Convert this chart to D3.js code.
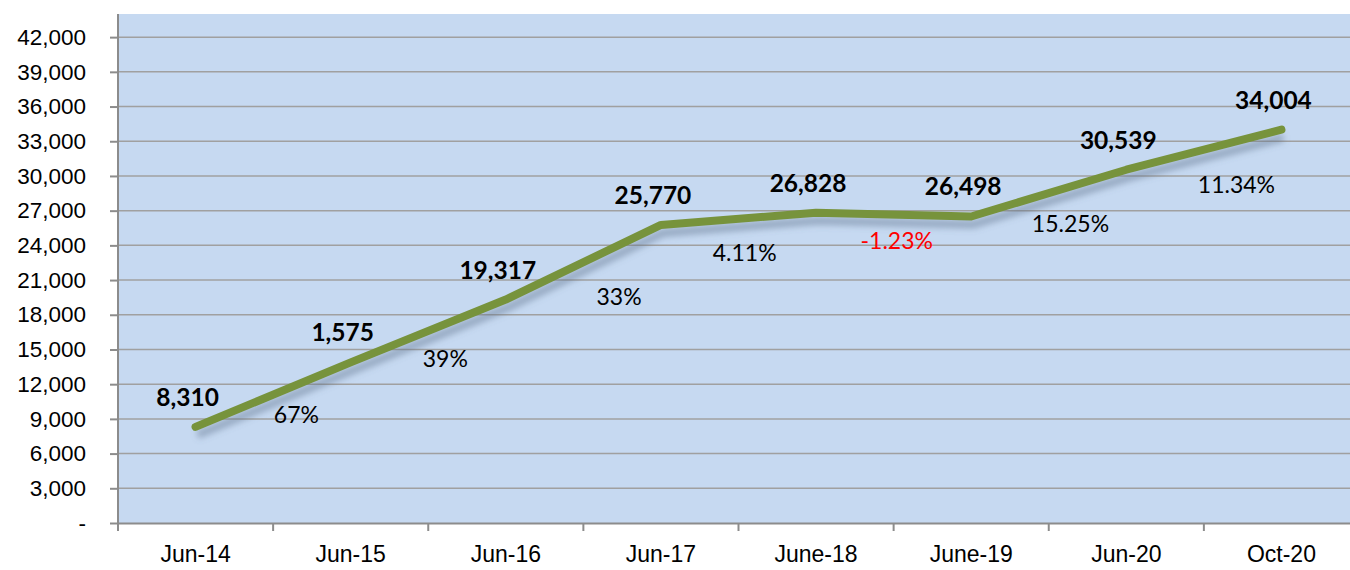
<!DOCTYPE html>
<html>
<head>
<meta charset="utf-8">
<script src="https://cdn.jsdelivr.net/npm/d3@7"></script>
<style>
  body { margin: 0; background: #fff; }
  svg { display: block; font-family: Lato, "Open Sans", sans-serif; }
</style>
</head>
<body>
<div id="chart"></div>
<script>
var w = 1350;
var h = 570;

// chart data
var periods = ["Jun-14", "Jun-15", "Jun-16", "Jun-17", "June-18", "June-19", "Jun-20", "Oct-20"];
var totals = [8310, 13885, 19317, 25770, 26828, 26498, 30539, 34004];
var totalLabels = ["8,310", "1,575", "19,317", "25,770", "26,828", "26,498", "30,539", "34,004"];
var growth = ["67%", "39%", "33%", "4.11%", "-1.23%", "15.25%", "11.34%"];
// where each growth label sits: fractional category index and value
var growthAt = [0.65, 1.61, 2.73, 3.54, 4.52, 5.64, 6.71];
var growthVal = [9340, 14180, 19540, 23340, 24380, 25850, 29220];
var yTicks = d3.range(0, 42001, 3000);

var margin = {left: 118, top: 14, bottom: 47};
var plotRight = 1359;

var svg = d3.select("#chart").append("svg")
    .attr("width", w)
    .attr("height", h);

var defs = svg.append("defs");
var shadow = defs.append("filter").attr("id", "shadow")
    .attr("x", "-10%").attr("y", "-50%").attr("width", "120%").attr("height", "200%");
shadow.append("feGaussianBlur").attr("stdDeviation", 3);

var x = d3.scaleBand().domain(periods).range([margin.left, plotRight]);
var y = d3.scaleLinear().domain([0, 44000]).range([h - margin.bottom, margin.top]);

function cx(i) { return x(periods[0]) + x.bandwidth() * (i + 0.5); }

// plot background
svg.append("rect")
    .attr("x", margin.left)
    .attr("y", margin.top)
    .attr("width", plotRight - margin.left)
    .attr("height", y(0) - margin.top)
    .attr("fill", "#c6d9f1");

// gridlines
svg.append("g").selectAll("line")
    .data(yTicks.filter(d => d > 0))
    .enter().append("line")
    .attr("x1", margin.left).attr("x2", plotRight)
    .attr("y1", d => y(d)).attr("y2", d => y(d))
    .attr("stroke", "#a0a0a0")
    .attr("stroke-width", 1.5);

// y axis
var yAxis = svg.append("g")
    .attr("transform", "translate(" + margin.left + ",0)")
    .call(d3.axisLeft(y).tickValues(yTicks).tickSize(8).tickPadding(24)
        .tickFormat(d => d === 0 ? "-" : d3.format(",")(d)));
yAxis.select(".domain").attr("stroke", "#8c8c8c").attr("stroke-width", 2);
yAxis.selectAll(".tick line").attr("stroke", "#8c8c8c").attr("stroke-width", 2);
yAxis.selectAll("text").attr("font-size", 22.5).attr("fill", "#000");
yAxis.select(".domain").attr("d", "M0," + y(0) + "V" + margin.top);

// x axis
var xAxis = svg.append("g")
    .attr("transform", "translate(0," + y(0) + ")")
    .call(d3.axisBottom(x).tickSize(0).tickPadding(23));
xAxis.select(".domain").attr("stroke", "#8c8c8c").attr("stroke-width", 2);
xAxis.selectAll("text").attr("font-size", 23).attr("fill", "#000");
xAxis.append("g").selectAll("line")
    .data(d3.range(periods.length + 1))
    .enter().append("line")
    .attr("x1", i => margin.left + i * x.bandwidth())
    .attr("x2", i => margin.left + i * x.bandwidth())
    .attr("y1", 0).attr("y2", 8)
    .attr("stroke", "#8c8c8c")
    .attr("stroke-width", 2);

// line
var line = d3.line()
    .x((d, i) => cx(i))
    .y(d => y(d));

svg.append("path")
    .datum(totals)
    .attr("d", line)
    .attr("fill", "none")
    .attr("stroke", "#5a6e88")
    .attr("stroke-opacity", 0.45)
    .attr("stroke-width", 8)
    .attr("transform", "translate(2,8)")
    .attr("filter", "url(#shadow)");

svg.append("path")
    .datum(totals)
    .attr("d", line)
    .attr("fill", "none")
    .attr("stroke", "#77933c")
    .attr("stroke-width", 8)
    .attr("stroke-linecap", "round")
    .attr("stroke-linejoin", "round");

// value labels
svg.append("g").selectAll("text")
    .data(totals)
    .enter().append("text")
    .attr("x", (d, i) => cx(i) - 8)
    .attr("y", d => y(d) - 21)
    .attr("text-anchor", "middle")
    .attr("font-size", 24.5)
    .attr("font-weight", "bold")
    .text((d, i) => totalLabels[i]);

// growth labels
svg.append("g").selectAll("text")
    .data(growth)
    .enter().append("text")
    .attr("x", (d, i) => cx(growthAt[i]))
    .attr("y", (d, i) => y(growthVal[i]))
    .attr("dy", "0.35em")
    .attr("text-anchor", "middle")
    .attr("font-size", 23)
    .attr("fill", d => d.charAt(0) === "-" ? "#ff0000" : "#000")
    .text(d => d);
</script>
</body>
</html>
